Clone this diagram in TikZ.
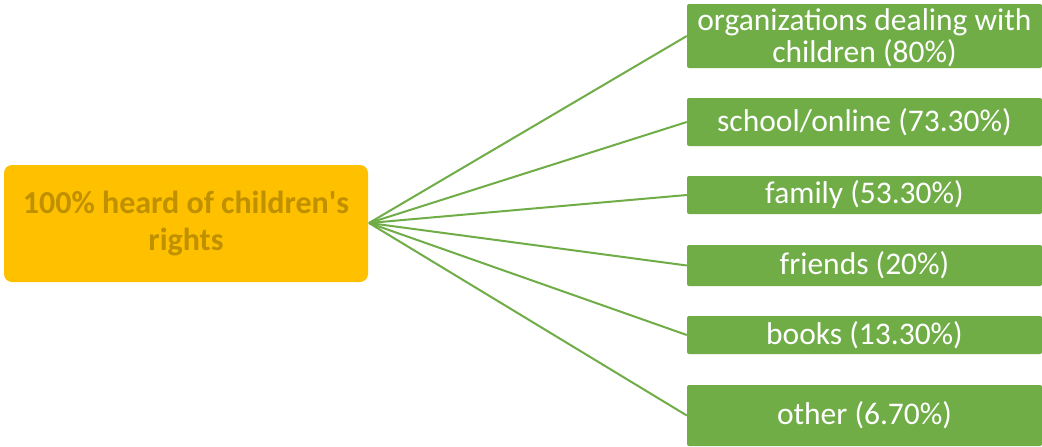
\documentclass[tikz,border=0pt]{standalone}
\usepackage{fontspec}
\setmainfont{Carlito}
\definecolor{hubfill}{RGB}{255,192,0}
\definecolor{hubtext}{RGB}{191,144,0}
\definecolor{leafgreen}{RGB}{112,173,71}
\begin{document}
\begin{tikzpicture}[x=1pt,y=-1pt,
  hub/.style={fill=hubfill,rounded corners=8pt,inner sep=0pt,align=center,
    text=hubtext,font=\fontsize{32}{37}\selectfont\bfseries},
  leaf/.style={fill=leafgreen,rounded corners=2pt,inner sep=0pt,align=center,
    text=white,font=\fontsize{31.5}{32}\selectfont},
  link/.style={draw=leafgreen,line width=2pt}]
\useasboundingbox (0,0) rectangle (1042,447);
\path[fill=white] (0,0) rectangle (1042,447);
\node[hub,minimum width=364pt,minimum height=117pt] (hub) at (186,223.5) {100\% heard of children\textquotesingle s\\rights};
\coordinate (c) at (369,223);
\node[leaf,minimum width=355pt,minimum height=64pt] (l1) at (864.5,36) {\rule{0pt}{26pt}organizations dealing with\\children (80\%)};
\node[leaf,minimum width=355pt,minimum height=48pt] (l2) at (864.5,122) {school/online (73.30\%)};
\node[leaf,minimum width=355pt,minimum height=38pt] (l3) at (864.5,195) {family (53.30\%)};
\node[leaf,minimum width=355pt,minimum height=41pt] (l4) at (864.5,265.5) {friends (20\%)};
\node[leaf,minimum width=355pt,minimum height=38pt] (l5) at (864.5,335) {books (13.30\%)};
\node[leaf,minimum width=355pt,minimum height=61pt] (l6) at (864.5,415.5) {other (6.70\%)};
\foreach \n in {l1,l2,l3,l4,l5,l6}{\draw[link] (c) -- (\n.west);}
\end{tikzpicture}
\end{document}
